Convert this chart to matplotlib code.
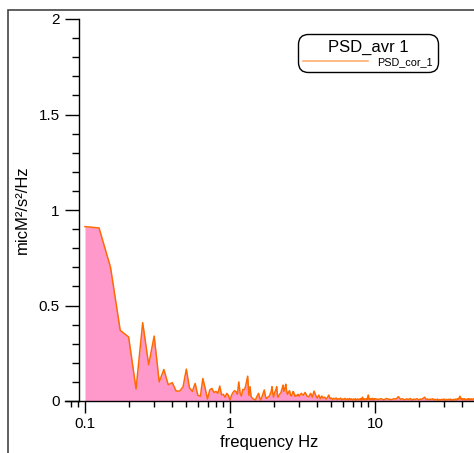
import numpy as np
import matplotlib
matplotlib.use("Agg")
import matplotlib.pyplot as plt
from matplotlib.patches import Rectangle
from matplotlib.ticker import FixedLocator, NullFormatter

plt.rcParams['font.family'] = ['Liberation Sans', 'DejaVu Sans']

# ---- data ----
# segment A: 0.1 .. 3.0 Hz, step 0.025 Hz
psd_a = [
    0.913, 0.906, 0.70, 0.37, 0.335, 0.063, 0.41, 0.19, 0.34, 0.10,
    0.165, 0.085, 0.096, 0.052, 0.052, 0.075, 0.167, 0.07, 0.05, 0.092,
    0.03, 0.025, 0.118, 0.065, 0.01, 0.058, 0.066, 0.045, 0.05, 0.04,
    0.078, 0.032, 0.035, 0.02, 0.04, 0.03, 0.005,
    # 1.025 .. 2.0
    0.03, 0.045, 0.054, 0.05, 0.035, 0.10, 0.04, 0.026, 0.06, 0.058,
    0.07, 0.10, 0.13, 0.03, 0.075, 0.022, 0.015, 0.01, 0.008, 0.005,
    0.02, 0.03, 0.04, 0.02, 0.005, 0.015, 0.03, 0.045, 0.058, 0.03,
    0.014, 0.014, 0.02, 0.024, 0.026, 0.04, 0.05, 0.075, 0.04, 0.02,
    # 2.025 .. 3.0
    0.04, 0.05, 0.06, 0.075, 0.03, 0.02, 0.03, 0.035, 0.04, 0.045,
    0.06, 0.07, 0.083, 0.05, 0.06, 0.07, 0.088, 0.06, 0.04, 0.035,
    0.045, 0.05, 0.054, 0.04, 0.03, 0.026, 0.035, 0.04, 0.05, 0.045,
    0.035, 0.026, 0.03, 0.026, 0.03, 0.028, 0.03, 0.035, 0.03, 0.025,
]
# segment B: 3.1 .. 10.0 Hz, step 0.1 Hz
psd_b = [
    0.04, 0.03, 0.045, 0.025, 0.022, 0.04, 0.02, 0.052, 0.03, 0.015,
    0.031, 0.012, 0.026, 0.015, 0.02, 0.01, 0.018, 0.031, 0.012, 0.016,
    0.008, 0.014, 0.01, 0.016, 0.007, 0.012, 0.009, 0.015, 0.006, 0.011,
    0.008, 0.014, 0.006, 0.01, 0.012, 0.005, 0.013, 0.008, 0.011, 0.006,
    0.01, 0.007, 0.012, 0.005, 0.009, 0.011, 0.006, 0.01, 0.007, 0.013,
    0.006, 0.02, 0.008, 0.012, 0.006, 0.01, 0.007, 0.014, 0.008, 0.031,
    0.01, 0.012, 0.006, 0.011, 0.008, 0.014, 0.006, 0.01, 0.007, 0.012,
]
# segment C: 10.5 .. 48 Hz, step 0.5 Hz
psd_c = [
    0.008, 0.012, 0.006, 0.013, 0.009, 0.007, 0.012, 0.01, 0.023, 0.009,
    0.012, 0.006, 0.011, 0.008, 0.013, 0.005, 0.01, 0.008, 0.012, 0.006,
    0.01, 0.009, 0.014, 0.02, 0.008, 0.011, 0.006, 0.01, 0.007, 0.012,
    0.005, 0.009, 0.006, 0.01, 0.004, 0.008, 0.005, 0.009, 0.006, 0.01,
    0.004, 0.008, 0.005, 0.009, 0.006, 0.01, 0.005, 0.008, 0.004, 0.009,
    0.006, 0.01, 0.005, 0.012, 0.008, 0.015, 0.025, 0.01, 0.014, 0.006,
    0.011, 0.007, 0.012, 0.005, 0.009, 0.006, 0.011, 0.007, 0.012, 0.006,
    0.01, 0.007, 0.011, 0.005, 0.009, 0.012,
]
freq_start = [0.1, 3.1, 10.5]
freq_step = [0.025, 0.1, 0.5]

x_ticks = [0.1, 1, 10]
x_ticklabels = ["0.1", "1", "10"]
y_ticks = [0, 0.5, 1, 1.5, 2]
y_ticklabels = ["0", "0.5", "1", "1.5", "2"]

title_text = "PSD_avr 1"
series_label = "PSD_cor_1"
xlabel = "frequency Hz"
ylabel = "micM²/s²/Hz"

freq = np.concatenate([s + d * np.arange(len(v)) for s, d, v in
                       zip(freq_start, freq_step, [psd_a, psd_b, psd_c])])
psd = np.concatenate([psd_a, psd_b, psd_c])

# ---- figure ----
W, H = 474, 453
fig = plt.figure(figsize=(W / 100, H / 100), dpi=100)

# outer frame (cut at right/bottom)
fig.patches.append(Rectangle((7.5 / W, -0.2), 1.5, 1.2 - 10 / H,
                             transform=fig.transFigure, fill=False,
                             edgecolor='#444444', linewidth=1.2))

ax_l, ax_b, ax_t = 65 / W, 1 - 401 / H, 1 - 19 / H
ax = fig.add_axes([ax_l, ax_b, 1 - ax_l, ax_t - ax_b])
ax.patch.set_alpha(0)

orange = '#FF6A00'
pink = '#FF99CC'
ax.fill_between(freq, psd, 0, color=pink, linewidth=0)
line, = ax.plot(freq, psd, color=orange, linewidth=1.1)

ax.set_xscale('log')
ax.set_xlim(0.0728, 48.2)
ax.set_ylim(0, 2)

for s in ('top', 'right'):
    ax.spines[s].set_visible(False)
ax.spines['left'].set_position(('data', 0.0909))
ax.spines['left'].set_bounds(0, 2)
for s in ('left', 'bottom'):
    ax.spines[s].set_linewidth(1.0)

ax.set_xticks(x_ticks)
ax.set_xticklabels(x_ticklabels)
minors = [m * d for d in (0.01, 0.1, 1, 10) for m in range(2, 10)]
ax.xaxis.set_minor_locator(FixedLocator(minors))
ax.xaxis.set_minor_formatter(NullFormatter())
ax.set_yticks(y_ticks)
ax.set_yticklabels(y_ticklabels)
ax.yaxis.set_minor_locator(FixedLocator(np.arange(0, 2.01, 0.1)))

ax.tick_params(axis='both', which='major', direction='out', width=1.0,
               labelsize=11, colors='black')
ax.tick_params(axis='x', which='major', length=8.5, pad=3)
ax.tick_params(axis='x', which='minor', length=4.5, width=1.0, direction='out')
ax.tick_params(axis='y', which='major', length=10, pad=4)
ax.tick_params(axis='y', which='minor', length=5, width=1.0, direction='out')

ax.set_xlabel(xlabel, fontsize=12, labelpad=3)
ax.set_ylabel(ylabel, fontsize=12, labelpad=6)

leg = ax.legend([line], [series_label], title=title_text,
                loc='upper left', bbox_to_anchor=(298 / W, 1 - 34 / H),
                bbox_transform=fig.transFigure, borderaxespad=0,
                fontsize=7.8, title_fontsize=12, handlelength=6.0,
                handletextpad=0.8, borderpad=0.5, labelspacing=0.2,
                fancybox=True, framealpha=1, edgecolor='black',
                alignment='center')
leg.get_frame().set_boxstyle('round,pad=0,rounding_size=0.9')
leg.get_frame().set_linewidth(1.0)
leg.get_lines()[0].set_alpha(0.6)

fig.savefig('out.png', dpi=100)
